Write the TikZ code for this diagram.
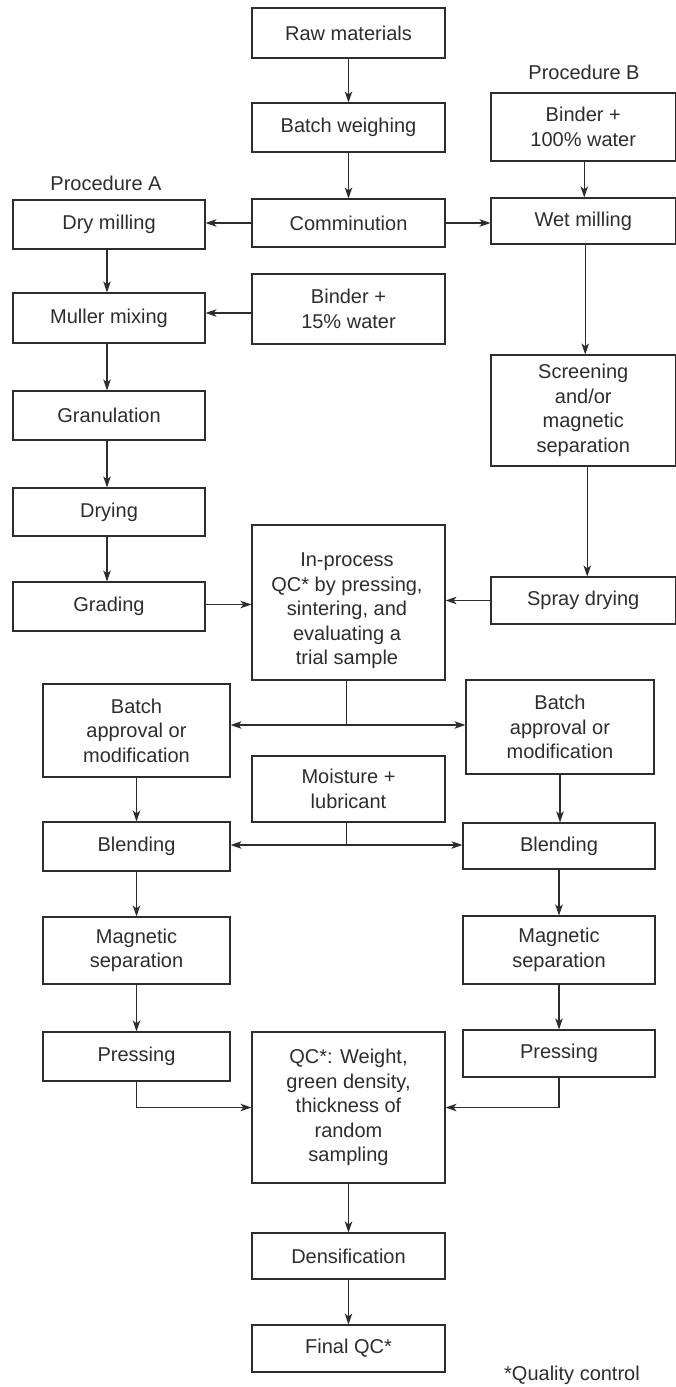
\documentclass[tikz,border=0pt]{standalone}
\usepackage{fontspec}
\setmainfont{Liberation Sans}
\usetikzlibrary{arrows.meta,calc}
\definecolor{ink}{RGB}{45,45,45}
\begin{document}
\begin{tikzpicture}[x=1pt,y=-1pt,
  every node/.style={font=\fontsize{20}{24.5}\selectfont, text=ink},
  box/.style={draw=ink, line width=1.1pt, rectangle, inner sep=0pt, align=center},
  lbl/.style={inner sep=0pt},
  arr/.style={draw=ink, line width=1.1pt, -{Stealth[length=11pt,width=7.5pt,inset=3pt]}},
  darr/.style={draw=ink, line width=1.1pt, {Stealth[length=11pt,width=7.5pt,inset=3pt]}-{Stealth[length=11pt,width=7.5pt,inset=3pt]}},
  ln/.style={draw=ink, line width=1.1pt}
]
\useasboundingbox (0,0) rectangle (676,1387);
\fill[white] (0,0) rectangle (676,1387);

% centre column
\node[box, minimum width=193pt, minimum height=50pt] (raw) at (348.5,33) {Raw materials};
\node[box, minimum width=193pt, minimum height=49pt] (batch) at (348.5,127.5) {Batch weighing};
\node[box, minimum width=193pt, minimum height=48pt] (comm) at (348.5,223) {Comminution};
\node[box, minimum width=193pt, minimum height=70pt] (bind15) at (348.5,309) {Binder +\\15\% water};
\node[box, minimum width=193pt, minimum height=155pt] (inproc) at (348.5,602.5) {};
\node[lbl, align=center] (inproctxt) at (347,611) {In-process\\QC* by pressing,\\sintering, and\\evaluating a\\trial sample};
\node[box, minimum width=193pt, minimum height=66pt] (moist) at (348.5,789) {Moisture +\\lubricant};
\node[box, minimum width=193pt, minimum height=151pt] (qc) at (348.5,1107.5) {QC*: Weight,\\green density,\\thickness of\\random\\sampling};
\node[box, minimum width=193pt, minimum height=46pt] (dens) at (348.5,1256) {Densification};
\node[box, minimum width=193pt, minimum height=47pt] (final) at (348.5,1348.5) {Final QC*};

% procedure A (left)
\node[lbl] (procA) at (106,183) {Procedure A};
\node[box, minimum width=192pt, minimum height=49pt] (dry) at (109,224.5) {Dry milling};
\node[box, minimum width=192pt, minimum height=50pt] (muller) at (109,318) {Muller mixing};
\node[box, minimum width=192pt, minimum height=49pt] (gran) at (109,415.5) {Granulation};
\node[box, minimum width=192pt, minimum height=48pt] (dryg) at (109,512) {Drying};
\node[box, minimum width=192pt, minimum height=49pt] (grading) at (109,606.5) {Grading};

% procedure B (right)
\node[lbl] (procB) at (584,72) {Procedure B};
\node[box, minimum width=184.5pt, minimum height=68pt] (bind100) at (583.25,127) {Binder +\\100\% water};
\node[box, minimum width=184.5pt, minimum height=46pt] (wet) at (583.25,221) {Wet milling};
\node[box, minimum width=184.5pt, minimum height=111pt] (screen) at (583.25,410.5) {Screening\\and/or\\magnetic\\separation};
\node[box, minimum width=184.5pt, minimum height=47pt] (spray) at (583.25,600.5) {Spray drying};

% lower left
\node[box, minimum width=187pt, minimum height=93pt] (bal) at (136.5,730.5) {Batch\\approval or\\modification};
\node[box, minimum width=187pt, minimum height=49pt] (blendl) at (136.5,846.5) {Blending};
\node[box, minimum width=187pt, minimum height=67pt] (magl) at (136.5,950.5) {Magnetic\\separation};
\node[box, minimum width=187pt, minimum height=49pt] (pressl) at (136.5,1056.5) {Pressing};

% lower right
\node[box, minimum width=188pt, minimum height=94pt] (bar) at (560,727) {Batch\\approval or\\modification};
\node[box, minimum width=192pt, minimum height=46pt] (blendr) at (559,846) {Blending};
\node[box, minimum width=192pt, minimum height=68pt] (magr) at (559,950) {Magnetic\\separation};
\node[box, minimum width=192pt, minimum height=47pt] (pressr) at (559,1053.5) {Pressing};

\node[lbl] (qcnote) at (572,1375) {*Quality control};

% connectors
\draw[arr] (raw) -- (batch);
\draw[arr] (batch) -- (comm);
\draw[arr] (comm.west) -- (comm.west -| dry.east);
\draw[arr] (comm.east) -- (comm.east -| wet.west);
\draw[arr] ([xshift=1pt]bind100.south) -- ([xshift=1pt]wet.north);
\draw[arr] ([xshift=-2pt]dry.south) -- ([xshift=-2pt]muller.north);
\draw[arr] ([yshift=-4pt]bind15.west) -- ([yshift=-4pt]bind15.west -| muller.east);
\draw[arr] ([xshift=-2pt]muller.south) -- ([xshift=-2pt]gran.north);
\draw[arr] ([xshift=-2pt]gran.south) -- ([xshift=-2pt]dryg.north);
\draw[arr] ([xshift=-2pt]dryg.south) -- ([xshift=-2pt]grading.north);
\draw[arr] ([xshift=2pt]wet.south) -- ([xshift=2pt]screen.north);
\draw[arr] ([xshift=4pt]screen.south) -- ([xshift=4pt]spray.north);
\draw[arr] ([yshift=2pt]grading.east) -- ([yshift=2pt]grading.east -| inproc.west);
\draw[arr] (spray.west) -- (spray.west -| inproc.east);

\coordinate (j1) at (inproc.south |- 0,725);
\draw[ln] ([xshift=-2pt]inproc.south) -- ([xshift=-2pt]j1);
\draw[darr] (j1 -| bal.east) -- (j1 -| bar.west);

\draw[arr] (bal) -- (blendl);
\draw[arr] (bar) -- (bar |- blendr.north);

\coordinate (j2) at (moist.south |- 0,845);
\draw[ln] ([xshift=-2pt]moist.south) -- ([xshift=-2pt]j2);
\draw[darr] (j2 -| blendl.east) -- (j2 -| blendr.west);

\draw[arr] (blendl) -- (magl);
\draw[arr] (magl) -- (pressl);
\draw[arr] (blendr) -- (magr);
\draw[arr] (magr) -- (pressr);

\draw[arr] (pressl.south) |- (qc.west);
\draw[arr] (pressr.south) |- (qc.east);
\draw[arr] (qc) -- (dens);
\draw[arr] (dens) -- (final);
\end{tikzpicture}
\end{document}
